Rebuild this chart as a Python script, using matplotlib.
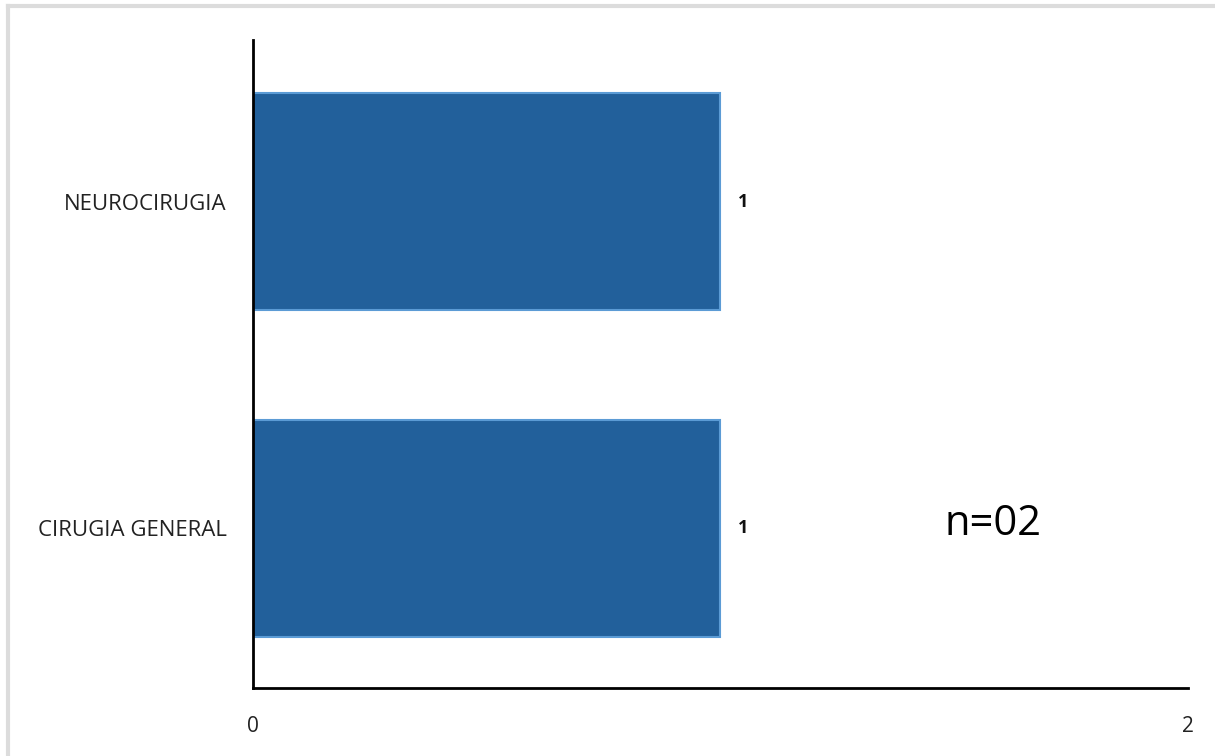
import matplotlib.pyplot as plt
from matplotlib.lines import Line2D

# datos
categorias = ['CIRUGIA GENERAL', 'NEUROCIRUGIA']
valores = [1, 1]
x_ticks = [0, 2]
nota = 'n=02'

plt.rcParams['font.family'] = ['Open Sans', 'DejaVu Sans']

fig = plt.figure(figsize=(12.15, 7.56), dpi=100)
ax = fig.add_axes([0.2082, 0.0899, 0.7696, 0.8571])

pos = list(range(len(categorias)))
ax.barh(pos, valores, height=0.665, color='#22609B', edgecolor='#5B9BD5', linewidth=1.5)

# etiquetas de valor
for y, v in zip(pos, valores):
    ax.text(v + 0.038, y, str(v), va='center', ha='left', fontsize=13,
            fontweight='bold', color='#111111')

ax.set_xlim(0, 2)
ax.set_ylim(-0.49, 1.495)
ax.set_xticks(x_ticks)
ax.set_xticklabels([str(t) for t in x_ticks])
ax.set_yticks(pos)
ax.set_yticklabels(categorias, fontsize=16)
ax.tick_params(axis='both', length=0, colors='#222222')
ax.tick_params(axis='x', labelsize=15, pad=20)
ax.tick_params(axis='y', pad=19)

for s in ['top', 'right']:
    ax.spines[s].set_visible(False)
for s in ['left', 'bottom']:
    ax.spines[s].set_linewidth(2)
    ax.spines[s].set_color('black')

ax.text(1.48, -0.02, nota, fontsize=30, va='baseline', ha='left', color='black')

# marco gris claro
fig.add_artist(Line2D([0.0066, 0.0066], [0, 0.992], transform=fig.transFigure,
                      color='#dcdcdc', linewidth=3))
fig.add_artist(Line2D([0.0066, 1], [0.992, 0.992], transform=fig.transFigure,
                      color='#dcdcdc', linewidth=3))

fig.savefig('out.png', dpi=100)
